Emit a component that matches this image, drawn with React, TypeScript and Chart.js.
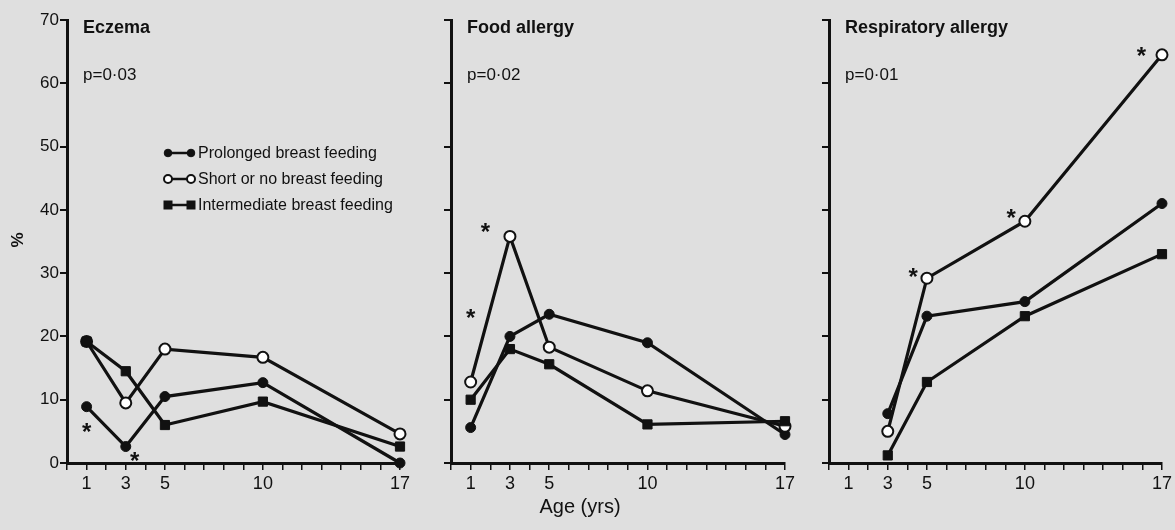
import React, { useEffect, useRef } from 'react';
import { Chart, registerables } from 'chart.js';

Chart.register(...registerables);

// ---------- data ----------
const ages = [1, 3, 5, 10, 17];
const respAges = [3, 5, 10, 17];
const xTickLabels = [1, 3, 5, 10, 17];
const yTicks = [0, 10, 20, 30, 40, 50, 60, 70];

const seriesNames = ['Prolonged breast feeding', 'Short or no breast feeding', 'Intermediate breast feeding'];

const eczemaProlonged = [8.9, 2.6, 10.5, 12.7, 0];
const eczemaShort = [19.2, 9.5, 18.0, 16.7, 4.6];
const eczemaIntermediate = [19.2, 14.5, 6.0, 9.7, 2.6];

const foodProlonged = [5.6, 20.0, 23.5, 19.0, 4.5];
const foodShort = [12.8, 35.8, 18.3, 11.4, 5.8];
const foodIntermediate = [10.0, 18.0, 15.6, 6.1, 6.6];

const respProlonged = [7.8, 23.2, 25.5, 41.0];
const respShort = [5.0, 29.2, 38.2, 64.5];
const respIntermediate = [1.2, 12.8, 23.2, 33.0];

const eczemaStarX = [1.0, 3.45];
const eczemaStarY = [5.6, 1.0];
const foodStarX = [1.0, 1.75];
const foodStarY = [23.7, 37.2];
const respStarX = [4.3, 9.3, 15.95];
const respStarY = [30.1, 39.5, 65.1];

const panelTitles = ['Eczema', 'Food allergy', 'Respiratory allergy'];
const pValues = ['p=0·03', 'p=0·02', 'p=0·01'];
const yAxisTitle = '%';
const xAxisTitle = 'Age (yrs)';

// ---------- styles ----------
const INK = '#111111';
const PAPER = '#dfdfdf';
const FONT = '"Liberation Sans", Arial, sans-serif';
const H = 530;
const AXIS_BOTTOM = 463;
const AXIS_TOP = 20;

type PanelCfg = {
  left: number;
  width: number;
  yw: number;
  padRight: number;
  xs: number[];
  prolonged: number[];
  short: number[];
  intermediate: number[];
  starX: number[];
  starY: number[];
  title: string;
  p: string;
  showYLabels: boolean;
  legend: boolean;
  yTitle: boolean;
  xTitleAt: number | null;
};

const styles = [
  { pointStyle: 'circle', radius: 5, bg: INK, bw: 1, order: 2 },
  { pointStyle: 'circle', radius: 5.5, bg: '#ffffff', bw: 2, order: 1 },
  { pointStyle: 'rect', radius: 6.5, bg: INK, bw: 1, order: 0 },
];

function makeDataset(label: string, xs: number[], ys: number[], s: any) {
  return {
    label,
    data: xs.map((x, i) => ({ x, y: ys[i] })),
    borderColor: INK,
    borderWidth: 3.2,
    pointStyle: s.pointStyle,
    pointRadius: s.radius,
    pointBackgroundColor: s.bg,
    pointBorderColor: INK,
    pointBorderWidth: s.bw,
    order: s.order,
    tension: 0,
    fill: false,
    showLine: true,
    clip: false,
  };
}

function drawMarker(ctx: CanvasRenderingContext2D, kind: number, x: number, y: number) {
  ctx.save();
  ctx.lineWidth = kind === 1 ? 2 : 1;
  ctx.strokeStyle = INK;
  ctx.fillStyle = kind === 1 ? '#ffffff' : INK;
  if (kind === 2) {
    ctx.fillRect(x - 4.5, y - 4.5, 9, 9);
  } else {
    ctx.beginPath();
    ctx.arc(x, y, kind === 1 ? 4 : 3.8, 0, Math.PI * 2);
    ctx.fill();
    ctx.stroke();
  }
  ctx.restore();
}

function makeTextPlugin(cfg: PanelCfg) {
  return {
    id: 'panelText',
    afterDraw(chart: any) {
      const ctx: CanvasRenderingContext2D = chart.ctx;
      const area = chart.chartArea;
      const xs = chart.scales.x;
      const ys = chart.scales.y;
      ctx.save();
      ctx.fillStyle = INK;
      // title
      ctx.font = `bold 18px ${FONT}`;
      ctx.textAlign = 'left';
      ctx.textBaseline = 'middle';
      ctx.fillText(cfg.title, area.left + 16, 28);
      // p value
      ctx.font = `17px ${FONT}`;
      ctx.fillText(cfg.p, area.left + 16, 75);
      // asterisks
      ctx.font = `bold 24px ${FONT}`;
      ctx.textAlign = 'center';
      ctx.textBaseline = 'alphabetic';
      const m = ctx.measureText('*');
      const asc = m.actualBoundingBoxAscent;
      const desc = m.actualBoundingBoxDescent;
      cfg.starX.forEach((sx, i) => {
        const px = xs.getPixelForValue(sx);
        const py = ys.getPixelForValue(cfg.starY[i]);
        ctx.fillText('*', px, py + (asc - desc) / 2);
      });
      // legend
      if (cfg.legend) {
        const rows = [153, 179, 205];
        ctx.font = `16px ${FONT}`;
        ctx.textAlign = 'left';
        ctx.textBaseline = 'middle';
        seriesNames.forEach((name, i) => {
          const y = rows[i];
          ctx.strokeStyle = INK;
          ctx.lineWidth = 2.5;
          ctx.beginPath();
          ctx.moveTo(168, y);
          ctx.lineTo(191, y);
          ctx.stroke();
          drawMarker(ctx, i, 168, y);
          drawMarker(ctx, i, 191, y);
          ctx.fillStyle = INK;
          ctx.fillText(name, 198, y + 1);
        });
      }
      // y axis title
      if (cfg.yTitle) {
        ctx.save();
        ctx.translate(18, 240);
        ctx.rotate(-Math.PI / 2);
        ctx.font = `bold 17px ${FONT}`;
        ctx.textAlign = 'center';
        ctx.textBaseline = 'middle';
        ctx.fillText(yAxisTitle, 0, 0);
        ctx.restore();
      }
      // x axis title
      if (cfg.xTitleAt !== null) {
        ctx.font = `20px ${FONT}`;
        ctx.textAlign = 'center';
        ctx.textBaseline = 'middle';
        ctx.fillText(xAxisTitle, cfg.xTitleAt, 507);
      }
      ctx.restore();
    },
  };
}

function Panel({ cfg }: { cfg: PanelCfg }) {
  const ref = useRef<HTMLCanvasElement>(null);
  useEffect(() => {
    const datasets = [
      makeDataset(seriesNames[0], cfg.xs, cfg.prolonged, styles[0]),
      makeDataset(seriesNames[1], cfg.xs, cfg.short, styles[1]),
      makeDataset(seriesNames[2], cfg.xs, cfg.intermediate, styles[2]),
    ];
    const chart = new Chart(ref.current as HTMLCanvasElement, {
      type: 'line',
      data: { datasets: datasets as any },
      options: {
        responsive: false,
        animation: false,
        layout: { padding: { top: AXIS_TOP, right: cfg.padRight, left: 0, bottom: 0 } },
        plugins: { legend: { display: false }, tooltip: { enabled: false } },
        scales: {
          x: {
            type: 'linear',
            min: 0,
            max: 17,
            afterFit: (s: any) => {
              s.height = H - AXIS_BOTTOM;
            },
            afterBuildTicks: (s: any) => {
              const t = [];
              for (let v = 0; v <= 17; v++) t.push({ value: v });
              s.ticks = t;
            },
            ticks: {
              autoSkip: false,
              maxRotation: 0,
              padding: 3,
              color: INK,
              font: { family: FONT, size: 18 },
              callback: (v: any) => (xTickLabels.includes(Number(v)) ? String(v) : ''),
            },
            grid: {
              display: true,
              drawOnChartArea: false,
              drawTicks: true,
              tickLength: 7,
              color: INK,
              lineWidth: 1.5,
            },
            border: { display: true, color: INK, width: 3 },
          },
          y: {
            type: 'linear',
            min: 0,
            max: 70,
            afterFit: (s: any) => {
              s.width = cfg.yw;
            },
            afterBuildTicks: (s: any) => {
              s.ticks = yTicks.map((v) => ({ value: v }));
            },
            ticks: {
              padding: 1,
              color: INK,
              font: { family: FONT, size: 17 },
              callback: (v: any) => (cfg.showYLabels ? String(v) : ''),
            },
            grid: {
              display: true,
              drawOnChartArea: false,
              drawTicks: true,
              tickLength: 7,
              color: INK,
              lineWidth: 2,
            },
            border: { display: true, color: INK, width: 3 },
          },
        },
      } as any,
      plugins: [makeTextPlugin(cfg)],
    });
    return () => chart.destroy();
  }, []);
  return (
    <canvas
      ref={ref}
      width={cfg.width}
      height={H}
      style={{ position: 'absolute', left: cfg.left, top: 0, width: cfg.width, height: H }}
    />
  );
}

const panels: PanelCfg[] = [
  {
    left: 0, width: 420, yw: 67, padRight: 20, xs: ages,
    prolonged: eczemaProlonged, short: eczemaShort, intermediate: eczemaIntermediate,
    starX: eczemaStarX, starY: eczemaStarY, title: panelTitles[0], p: pValues[0],
    showYLabels: true, legend: true, yTitle: true, xTitleAt: null,
  },
  {
    left: 400, width: 405, yw: 51, padRight: 20, xs: ages,
    prolonged: foodProlonged, short: foodShort, intermediate: foodIntermediate,
    starX: foodStarX, starY: foodStarY, title: panelTitles[1], p: pValues[1],
    showYLabels: false, legend: false, yTitle: false, xTitleAt: 180,
  },
  {
    left: 790, width: 385, yw: 39, padRight: 12, xs: respAges,
    prolonged: respProlonged, short: respShort, intermediate: respIntermediate,
    starX: respStarX, starY: respStarY, title: panelTitles[2], p: pValues[2],
    showYLabels: false, legend: false, yTitle: false, xTitleAt: null,
  },
];

export default function App() {
  return (
    <div
      style={{
        position: 'fixed',
        left: 0,
        top: 0,
        width: 1175,
        height: H,
        background: PAPER,
        overflow: 'hidden',
      }}
    >
      {panels.map((p, i) => (
        <Panel key={i} cfg={p} />
      ))}
    </div>
  );
}
